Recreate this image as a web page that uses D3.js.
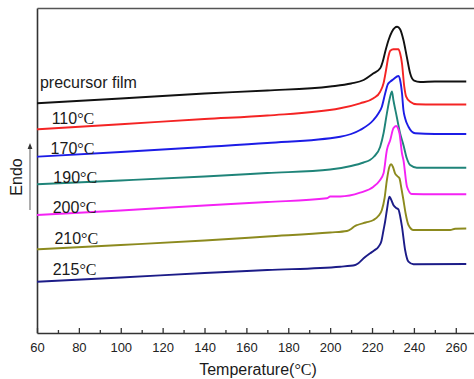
<!DOCTYPE html>
<html>
<head>
<meta charset="utf-8">
<script src="https://cdn.jsdelivr.net/npm/d3@7"></script>
<style>
  html, body { margin: 0; padding: 0; background: #fff; }
  svg { display: block; }
  text { font-family: "Liberation Sans", Arial, sans-serif; }
</style>
</head>
<body>
<script>
// ---------------- DATA ----------------
const xTicks = [60, 80, 100, 120, 140, 160, 180, 200, 220, 240, 260];
const xMinorTicks = [70, 90, 110, 130, 150, 170, 190, 210, 230, 250];
const seriesNames = ["precursor film", "110", "170", "190", "200", "210", "215"];

const precursorT = [60,100,140,170,200,210,216,220.7,223.9,225.1,226.3,227.9,229.5,232,233.4,235,236.6,238.2,240.1,243,250,265];
const precursorV = [229.7,234.5,239.5,242.5,246.5,249.5,253,259.7,264.7,271.3,281.3,293,301.3,306.3,303.7,293,276.3,259.7,252.3,251,251.5,251.5];

const s110T = [60,100,140,170,204.8,214.3,220.7,223.9,225.5,226.7,227.8,228.7,230.2,232.6,233.4,234.3,235.4,236.3,238.2,241.4,250,265];
const s110V = [203.7,208.7,214,217.5,224.7,229.7,234.7,241.3,249.7,263,276.3,282.3,283.7,283.7,279.7,269.7,246.3,236.3,231.3,228.7,228.5,228.5];

const s170T = [60,100,140,170,204.8,214.3,220.7,223.1,224.7,226.3,227.4,228.7,230.2,232.6,233.4,234.3,235,235.8,237.4,240.6,250,265];
const s170V = [176.3,181,186,190,196.3,203,213,219.7,226.3,239.7,248,251.3,253.7,257,253,240,223,214.7,206.3,199.7,199,199];

const s190T = [60,100,140,170,200,210,216,219,221,223.9,225.5,227.1,228.3,229.5,230.2,231.8,233.4,235,236.6,238.2,241.4,265];
const s190V = [148.7,152.5,156.5,160,163.5,167,170.5,173,176.5,186.3,199.7,219.7,233,241.5,233,216.3,199.7,188,174.7,168,165.3,165.3];

const s200T = [60,100,140,170,198.4,200,204.8,214.3,220.7,223.5,225.5,227.1,228.7,230.2,231.5,233.1,234.3,235,236.7,239,250,265];
const s200V = [118,122.5,127.5,131,134.7,136.5,136.5,140.3,146.3,152,159.7,183,193,204.7,207,199.7,179.7,173,146.3,139,138.7,138.7];

const s210T = [60,100,140,170,200,208,210,211.5,213,217,220.7,223,224.7,226,227.1,228.3,229.1,230,231,232,233.1,234,235,236,237.4,239.8,257.3,259.7,265];
const s210V = [83.7,88,92.5,96.5,100.5,102,104,106.5,108,110.5,113,117,123,135,153,166.3,168.7,166,159.7,157,154.7,145,133,120,108,103,103,104.3,104.5];

const s215T = [60,100,140,170,204.8,212,213.5,216,219.1,221,223.1,224.5,225.5,226.3,227.1,228.3,229,230.2,231.5,232.6,233.5,234.3,235.8,237.4,239.8,265];
const s215V = [51.3,55.5,60,63,66.3,68,69.7,74.7,79.7,82.5,86.3,92,103,112,123,136.3,134,128,125,123.7,116,106.3,83,71.3,68.7,69];

// ---------------- LAYOUT / STYLE ----------------
const W = 474, H = 379;
const margin = { left: 37, top: 8, bottom: 46 };
const colors = ["#111111", "#f42424", "#1c1ce6", "#1f8479", "#f422f4", "#8c8a1e", "#1c1c88"];
// label anchors in data coordinates [temperature, value]
const labelAnchors = [[61.4, 244.7], [67, 208.7], [66.5, 178.7], [67.8, 149.7], [67.5, 119.7], [68.3, 88.7], [67.5, 57.7]];

const allT = [precursorT, s110T, s170T, s190T, s200T, s210T, s215T];
const allV = [precursorV, s110V, s170V, s190V, s200V, s210V, s215V];

const svg = d3.select("body").append("svg").attr("width", W).attr("height", H);
svg.append("rect").attr("width", W).attr("height", H).attr("fill", "#fff");

const x = d3.scaleLinear().domain([60, 268.7]).range([margin.left, W]);
const y = d3.scaleLinear().domain([0, 325]).range([H - margin.bottom, margin.top]);

const axisColor = "#333";

// Bottom axis: major ticks inward
const gx = svg.append("g").attr("transform", `translate(0,${H - margin.bottom})`)
  .call(d3.axisBottom(x).tickValues(xTicks).tickSize(-5).tickSizeOuter(0).tickPadding(10));
gx.select(".domain").attr("stroke", axisColor).attr("stroke-width", 1.6);
gx.selectAll(".tick line").attr("stroke", axisColor).attr("stroke-width", 1.3);
gx.selectAll(".tick text").attr("font-size", 13).attr("fill", "#222")
  .attr("font-family", "'Liberation Sans', Arial, sans-serif");

// minor ticks
const gxm = svg.append("g").attr("transform", `translate(0,${H - margin.bottom})`)
  .call(d3.axisBottom(x).tickValues(xMinorTicks).tickSize(-3).tickSizeOuter(0).tickFormat(""));
gxm.select(".domain").remove();
gxm.selectAll(".tick line").attr("stroke", axisColor).attr("stroke-width", 1.3);

// Left axis line (no ticks)
const gy = svg.append("g").attr("transform", `translate(${margin.left},0)`)
  .call(d3.axisLeft(y).tickValues([]).tickSizeOuter(0));
gy.select(".domain").attr("stroke", axisColor).attr("stroke-width", 1.6);

// Top frame line
const gt = svg.append("g").attr("transform", `translate(0,${margin.top})`)
  .call(d3.axisTop(x).tickValues([]).tickSizeOuter(0));
gt.select(".domain").attr("stroke", "#555").attr("stroke-width", 1.4);

// Curves
const line = d3.line().x(d => x(d[0])).y(d => y(d[1])).curve(d3.curveMonotoneX);
allT.forEach((ts, i) => {
  const pts = ts.map((t, j) => [t, allV[i][j]]);
  svg.append("path").datum(pts)
    .attr("d", line)
    .attr("fill", "none")
    .attr("stroke", colors[i])
    .attr("stroke-width", 1.9)
    .attr("stroke-linejoin", "round");
});

// Labels
seriesNames.forEach((name, i) => {
  const [lt, lv] = labelAnchors[i];
  const t = svg.append("text").attr("x", x(lt)).attr("y", y(lv))
    .attr("font-size", 16).attr("fill", "#1a1a1a");
  if (i === 0) {
    t.text(name);
  } else {
    t.append("tspan").text(name);
    t.append("tspan").attr("font-family", "'Liberation Serif', 'Times New Roman', serif").text("°C");
  }
});

// X axis title
const xt = svg.append("text").attr("x", 258).attr("y", 375).attr("text-anchor", "middle")
  .attr("font-size", 16).attr("fill", "#1a1a1a");
xt.append("tspan").text("Temperature(");
xt.append("tspan").attr("font-family", "'Liberation Serif', 'Times New Roman', serif").text("°C");
xt.append("tspan").text(")");

// Endo label + arrow
svg.append("text").attr("transform", "translate(22,177) rotate(-90)")
  .attr("text-anchor", "middle").attr("font-size", 16).attr("fill", "#1a1a1a").text("Endo");
svg.append("defs").append("marker").attr("id", "ah").attr("viewBox", "0 0 10 10")
  .attr("refX", 5).attr("refY", 5).attr("markerWidth", 5).attr("markerHeight", 7)
  .attr("orient", "auto")
  .append("path").attr("d", "M0,1 L10,5 L0,9 z").attr("fill", "#333");
svg.append("line").attr("x1", 30).attr("y1", 210).attr("x2", 30).attr("y2", 146)
  .attr("stroke", "#777").attr("stroke-width", 1.2).attr("marker-end", "url(#ah)");
</script>
</body>
</html>
